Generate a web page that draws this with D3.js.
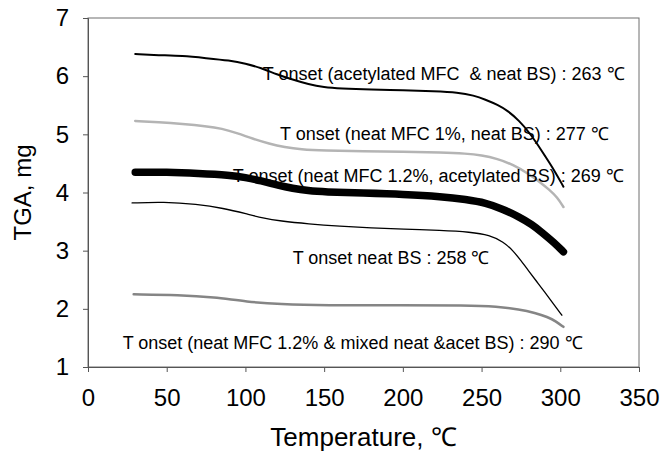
<!DOCTYPE html>
<html>
<head>
<meta charset="utf-8">
<script src="https://cdn.jsdelivr.net/npm/d3@7"></script>
<style>
  body { margin: 0; background: #fff; }
  text { font-family: "Liberation Sans", Arial, sans-serif; }
</style>
</head>
<body>
<svg id="chart" width="660" height="454"></svg>
<script>
// Curve TGA: [temperatura, massa]
var acetMfcNeatBs = [[30,6.38],[45,6.36],[60,6.35],[75,6.31],[90,6.27],[100,6.22],[110,6.14],[120,6.03],[130,5.94],[140,5.86],[150,5.81],[160,5.79],[180,5.77],[200,5.76],[220,5.74],[235,5.72],[245,5.67],[253,5.59],[260,5.51],[267,5.40],[274,5.23],[280,5.04],[285,4.85],[290,4.64],[296,4.39],[302,4.10]];
var neatMfc1NeatBs = [[30,5.23],[45,5.21],[60,5.18],[75,5.14],[85,5.10],[95,5.02],[105,4.92],[115,4.84],[125,4.78],[135,4.74],[150,4.72],[175,4.71],[200,4.70],[225,4.69],[240,4.67],[250,4.64],[260,4.58],[270,4.48],[280,4.32],[287,4.18],[293,4.05],[298,3.92],[302,3.75]];
var neatMfc12AcetBs = [[30,4.35],[50,4.35],[70,4.33],[90,4.30],[100,4.26],[110,4.20],[120,4.13],[130,4.07],[140,4.03],[150,4.01],[175,3.99],[200,3.97],[225,3.93],[240,3.88],[253,3.82],[263,3.72],[274,3.58],[282,3.45],[289,3.30],[296,3.14],[302,2.98]];
var neatBs = [[28,3.82],[48,3.84],[69,3.80],[86,3.73],[101,3.63],[111,3.56],[122,3.51],[140,3.46],[160,3.42],[180,3.39],[200,3.37],[224,3.35],[243,3.32],[255,3.27],[264,3.15],[270,3.00],[275,2.83],[280,2.65],[285,2.47],[290,2.29],[295,2.11],[301,1.89]];
var neatMfc12MixedBs = [[29,2.25],[58,2.24],[80,2.20],[101,2.12],[122,2.08],[150,2.06],[200,2.06],[240,2.06],[260,2.04],[274,1.99],[284,1.93],[292,1.86],[297,1.79],[302,1.69]];

// Etichette Tonset e loro punto d'ancoraggio [temperatura, massa]
var annotationTexts = [
  "T onset (acetylated MFC  & neat BS) : 263 \u2103",
  "T onset (neat MFC 1%, neat BS) : 277 \u2103",
  "T onset (neat MFC 1.2%, acetylated BS) : 269 \u2103",
  "T onset neat BS : 258 \u2103",
  "T onset (neat MFC 1.2% & mixed neat &acet BS) : 290 \u2103"
];
var annotationAt = [[111,5.93],[122,4.90],[92,4.18],[130,2.77],[22,1.31]];

var xTicks = [0, 50, 100, 150, 200, 250, 300, 350];
var yTicks = [1, 2, 3, 4, 5, 6, 7];

// Margini
var margin = {top: 18, right: 21, bottom: 87, left: 88};
var width = 660 - margin.left - margin.right;
var height = 454 - margin.top - margin.bottom;

var svg = d3.select("#chart");
var g = svg.append("g").attr("transform", "translate(" + margin.left + "," + margin.top + ")");

var xScale = d3.scaleLinear().domain([0, 350]).range([0, width]);
var yScale = d3.scaleLinear().domain([1, 7]).range([height, 0]);

// Cornice dell'area del grafico
g.append("rect")
  .attr("width", width)
  .attr("height", height)
  .attr("fill", "none")
  .attr("stroke", "#6e6e6e")
  .attr("stroke-width", 1);

var xAxis = g.append("g")
  .attr("transform", "translate(0," + height + ")")
  .call(d3.axisBottom(xScale).tickValues(xTicks).tickFormat(d3.format("d")).tickSize(5).tickPadding(17));
var yAxis = g.append("g")
  .call(d3.axisLeft(yScale).tickValues(yTicks).tickFormat(d3.format("d")).tickSize(5).tickPadding(14));

[xAxis, yAxis].forEach(function(a) {
  a.select(".domain").attr("stroke", "#555");
  a.selectAll(".tick line").attr("stroke", "#555");
  a.selectAll(".tick text").attr("font-size", 24).attr("fill", "#000")
    .style("font-family", "'Liberation Sans', Arial, sans-serif");
});

// Titoli degli assi
svg.append("text")
  .attr("x", margin.left + xScale(175))
  .attr("y", 446)
  .attr("text-anchor", "middle")
  .attr("font-size", 26)
  .text("Temperature, \u2103");

svg.append("text")
  .attr("transform", "translate(31," + (margin.top + height / 2) + ") rotate(-90)")
  .attr("text-anchor", "middle")
  .attr("font-size", 24)
  .text("TGA, mg");

var line = d3.line()
  .x(function(d) { return xScale(d[0]); })
  .y(function(d) { return yScale(d[1]); })
  .curve(d3.curveBasis);

var series = [
  {data: acetMfcNeatBs, color: "#000", w: 2},
  {data: neatMfc1NeatBs, color: "#b4b4b4", w: 2.5},
  {data: neatMfc12AcetBs, color: "#000", w: 7.5},
  {data: neatBs, color: "#000", w: 1.3},
  {data: neatMfc12MixedBs, color: "#858585", w: 2.5}
];

g.selectAll("path.serie")
  .data(series)
  .enter()
  .append("path")
  .attr("class", "serie")
  .attr("d", function(d) { return line(d.data); })
  .attr("fill", "none")
  .attr("stroke", function(d) { return d.color; })
  .attr("stroke-width", function(d) { return d.w; })
  .attr("stroke-linecap", "round")
  .attr("stroke-linejoin", "round");

// Etichette sopra le curve
g.selectAll("text.ann")
  .data(annotationTexts)
  .enter()
  .append("text")
  .attr("class", "ann")
  .attr("x", function(d, i) { return xScale(annotationAt[i][0]); })
  .attr("y", function(d, i) { return yScale(annotationAt[i][1]); })
  .attr("font-size", 18)
  .attr("fill", "#000")
  .style("white-space", "pre")
  .text(function(d) { return d; });
</script>
</body>
</html>
